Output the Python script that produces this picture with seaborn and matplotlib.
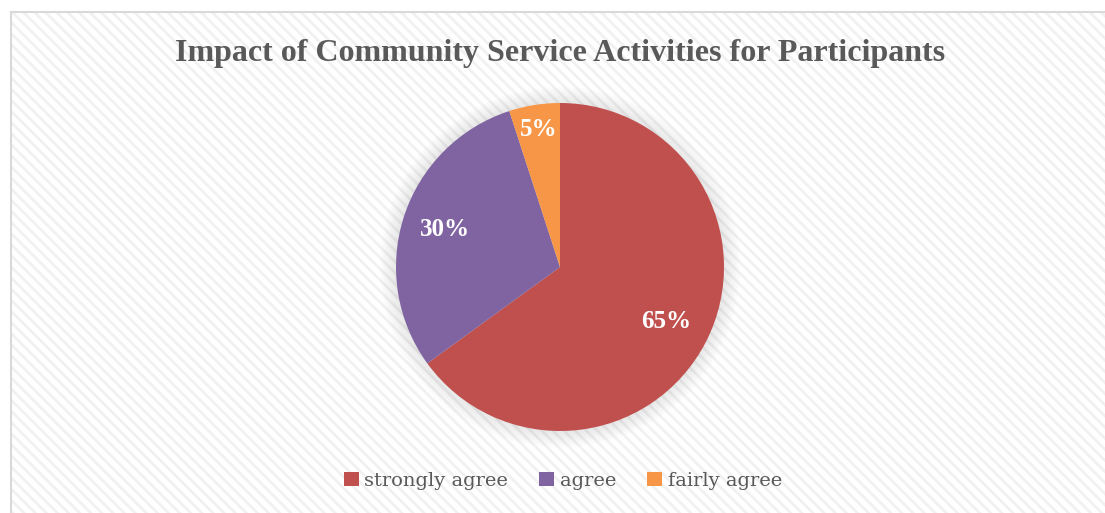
import numpy as np
import matplotlib
matplotlib.use("Agg")
import matplotlib.pyplot as plt
import seaborn as sns
from matplotlib.patches import Rectangle, Patch, Circle

categories = ["strongly agree", "agree", "fairly agree"]
values = [65, 30, 5]
pct_labels = ["65%", "30%", "5%"]
colors = ["#C0504D", "#8064A2", "#F79646"]
label_dist = [0.73, 0.74, 0.85]
title = "Impact of Community Service Activities for Participants"

sns.set_theme(style="white")
plt.rcParams["hatch.linewidth"] = 2.0

W, H = 1105, 513
fig = plt.figure(figsize=(W / 100, H / 100), dpi=100)
fig.patch.set_facecolor("white")

# hatched background of chart area
bg = Rectangle((11 / W, 0), 1 - 11 / W, 1 - 12 / H, transform=fig.transFigure,
               facecolor="white", edgecolor="#F1F1F1", hatch="\\\\\\", linewidth=0,
               zorder=-2)
fig.patches.append(bg)
border = Rectangle((11 / W, -0.01), 1.02 - 11 / W, 1.01 - 12 / H, transform=fig.transFigure,
                   facecolor="none", edgecolor="#D9D9D9", linewidth=1.5, zorder=-1)
fig.patches.append(border)

cx, cy, r = 560, 267, 164
ax = fig.add_axes([(cx - r) / W, (H - cy - r) / H, 2 * r / W, 2 * r / H])
ax.set_zorder(2)

wedges, _ = ax.pie(values, colors=colors, startangle=90, counterclock=False,
                   radius=1, wedgeprops=dict(linewidth=0))
for w in wedges:
    w.set_zorder(2)

ax.set_xlim(-1, 1)
ax.set_ylim(-1, 1)
ax.set_aspect("equal")
ax.axis("off")
ax.patch.set_alpha(0)

# soft shadow
for i in range(12):
    rr = 1.10 - i * 0.009
    ax.add_patch(Circle((0, 0), rr, facecolor="#777777", alpha=0.012, linewidth=0,
                        zorder=0, clip_on=False))

for w, lab, d in zip(wedges, pct_labels, label_dist):
    ang = np.deg2rad((w.theta1 + w.theta2) / 2)
    ax.text(d * np.cos(ang), d * np.sin(ang), lab, ha="center", va="center",
            color="white", fontsize=18, fontweight="bold", family="Liberation Serif", zorder=3)

fig.text(560 / W, 1 - 53 / H, title, ha="center", va="center", fontsize=23,
         fontweight="bold", family="Liberation Serif", color="#595959")

handles = [Patch(facecolor=c, edgecolor="none", label=l) for c, l in zip(colors, categories)]
leg = fig.legend(handles=handles, loc="center", bbox_to_anchor=(563 / W, 1 - 481 / H), ncol=3,
                 frameon=False, handlelength=0.75, handleheight=0.75, handletextpad=0.3,
                 columnspacing=1.6, prop=dict(family="DejaVu Serif", size=14))
for t in leg.get_texts():
    t.set_color("#595959")

fig.savefig("out.png", dpi=100)
